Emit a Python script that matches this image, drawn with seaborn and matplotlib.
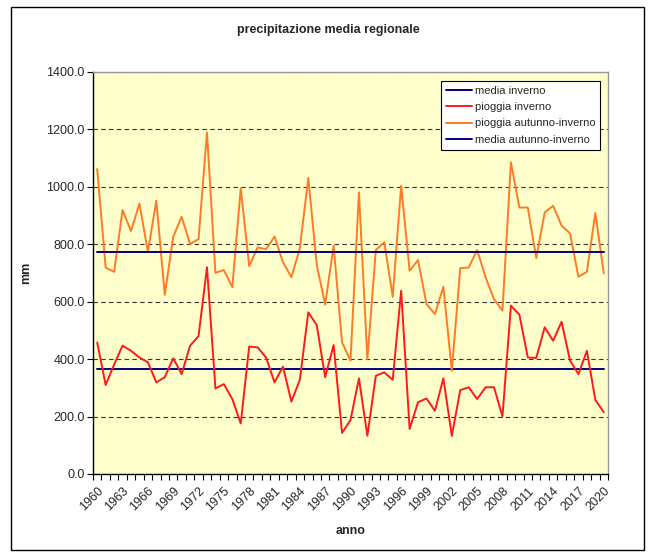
import numpy as np
import pandas as pd
import matplotlib
matplotlib.use('Agg')
import matplotlib.pyplot as plt
from matplotlib.patches import Rectangle
from matplotlib.ticker import MultipleLocator, FixedLocator
import seaborn as sns

# Data
anni = list(range(1960, 2021))

pioggia_inverno = [
    458, 310, 381, 447, 429, 406, 389, 319, 337, 403,
    348, 447, 480, 720, 298, 313, 261, 176, 444, 441,
    406, 319, 374, 252, 328, 563, 519, 337, 449, 143,
    188, 333, 133, 342, 354, 328, 638, 157, 250, 263,
    220, 333, 133, 292, 302, 261, 302, 302, 200, 586,
    555, 406, 404, 511, 464, 530, 395, 348, 429, 258,
    215,
]

pioggia_autunno_inverno = [
    1062, 719, 704, 919, 846, 942, 774, 952, 624, 826,
    896, 801, 818, 1189, 701, 710, 651, 995, 724, 789,
    783, 827, 738, 685, 786, 1031, 729, 590, 795, 458,
    395, 981, 400, 780, 807, 617, 1004, 708, 745, 592,
    557, 652, 360, 717, 719, 780, 685, 609, 569, 1085,
    928, 928, 752, 911, 934, 865, 838, 687, 704, 909,
    699,
]

media_inverno = 365
media_autunno_inverno = 773

df = pd.DataFrame({
    'anno': anni,
    'pioggia inverno': pioggia_inverno,
    'pioggia autunno-inverno': pioggia_autunno_inverno,
    'media inverno': [media_inverno] * len(anni),
    'media autunno-inverno': [media_autunno_inverno] * len(anni),
})

sns.set_style('white')
plt.rcParams['font.family'] = ['Liberation Sans', 'DejaVu Sans']

fig = plt.figure(figsize=(6.56, 5.6), dpi=100)
ax = fig.add_axes([93 / 656, 1 - 474 / 560, (608 - 93) / 656, (474 - 72) / 560])
ax.set_facecolor('#FFFFCC')

# Series, in legend order
sns.lineplot(data=df, x='anno', y='media inverno', ax=ax, color='#000080',
             lw=1.4, label='media inverno')
sns.lineplot(data=df, x='anno', y='pioggia inverno', ax=ax, color='#FF1A1A',
             lw=1.4, label='pioggia inverno')
sns.lineplot(data=df, x='anno', y='pioggia autunno-inverno', ax=ax,
             color='#FF7A26', lw=1.4, label='pioggia autunno-inverno')
sns.lineplot(data=df, x='anno', y='media autunno-inverno', ax=ax,
             color='#000080', lw=1.4, label='media autunno-inverno')

ax.set_xlim(anni[0] - 0.5, anni[-1] + 0.5)
ax.set_ylim(0, 1400)

# y axis
ax.yaxis.set_major_locator(MultipleLocator(200))
ax.set_yticks(ax.get_yticks())
ax.set_yticklabels([f'{v:.1f}' for v in ax.get_yticks()], fontsize=9)
ax.set_ylim(0, 1400)
ax.tick_params(axis='y', which='major', direction='out', length=4,
               width=0.8, color='black', pad=2, left=True)
ax.grid(axis='y', linestyle=(0, (4, 3)), color='#333333', lw=0.8)
ax.set_axisbelow(True)

# x axis: labels every 3 years, ticks at category boundaries
ax.set_xticks(anni[::3])
ax.set_xticklabels([str(a) for a in anni[::3]], rotation=45, ha='right',
                   rotation_mode='anchor', fontsize=9)
ax.xaxis.set_minor_locator(FixedLocator(np.arange(anni[0] - 0.5, anni[-1] + 1, 1)))
ax.tick_params(axis='x', which='major', length=0, pad=8)
ax.tick_params(axis='x', which='minor', direction='out', length=4,
               width=0.8, color='black', bottom=True)

for s in ['left', 'bottom']:
    ax.spines[s].set_color('black')
    ax.spines[s].set_linewidth(1.0)
for s in ['top', 'right']:
    ax.spines[s].set_color('#999999')
    ax.spines[s].set_linewidth(1.0)

ax.set_xlabel('anno', fontsize=9, fontweight='bold', labelpad=8)
ax.set_ylabel('mm', fontsize=9, fontweight='bold')
ax.yaxis.set_label_coords(-0.118, 0.5)

fig.text(0.5, 1 - 30 / 560, 'precipitazione media regionale', ha='center',
         va='center', fontsize=9, fontweight='bold')

leg = ax.legend(loc='upper right', bbox_to_anchor=(0.985, 0.977), fontsize=8,
                frameon=True, fancybox=False, framealpha=1, edgecolor='black',
                borderpad=0.45, labelspacing=0.55, handlelength=2.4,
                handletextpad=0.2, borderaxespad=0)
leg.get_frame().set_linewidth(0.8)

# outer chart border
fig.patches.append(Rectangle((11 / 656, 1 - 550 / 560), (644 - 11) / 656,
                             (550 - 7) / 560, transform=fig.transFigure,
                             fill=False, edgecolor='black', lw=1.0))

plt.savefig('out.png', dpi=100)
plt.close()
